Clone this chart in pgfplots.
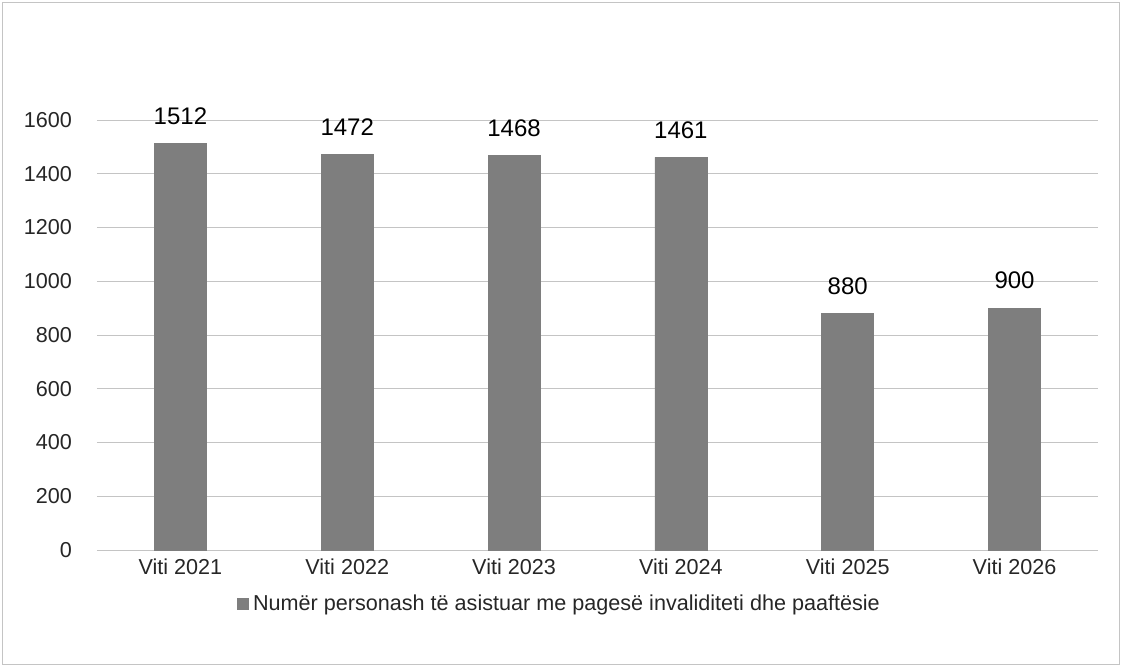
\documentclass[border=0pt]{standalone}
\usepackage{fontspec}
\setmainfont{Liberation Sans}
\usepackage{pgfplots}
\pgfplotsset{compat=1.18}
\definecolor{bargray}{HTML}{7E7E7E}
\definecolor{gridgray}{HTML}{C4C4C4}
\begin{document}
\begin{tikzpicture}[x=1pt,y=1pt]
\draw[gridgray, line width=0.4pt] (1,1) rectangle (559.5,332);
\path[use as bounding box] (0,0) rectangle (560.5,333);
\begin{axis}[
  at={(48.5pt,58pt)}, anchor=south west,
  scale only axis, width=500.5pt, height=215pt,
  xmin=-0.5, xmax=5.5, ymin=0, ymax=1600,
  ybar, bar width=26pt,
  xtick={0,...,5},
  xticklabels={Viti 2021,Viti 2022,Viti 2023,Viti 2024,Viti 2025,Viti 2026},
  ytick={0,200,...,1600},
  axis line style={draw=none},
  major tick length=0pt,
  ymajorgrids, grid style={gridgray, line width=0.5pt},
  tick label style={font=\fontsize{10.8}{12}\selectfont, text=black!85},
  xticklabel style={yshift=-1pt},
  yticklabel style={xshift=-9pt, /pgf/number format/1000 sep={}},
  /pgf/number format/assume math mode=true,
  nodes near coords,
  nodes near coords style={font=\fontsize{12}{14}\selectfont, text=black, anchor=south, yshift=6pt,
    /pgf/number format/1000 sep={}},
  legend style={at={(0.463,-0.1256)}, anchor=center, draw=none, fill=none,
    font=\fontsize{10.8}{12}\selectfont, text=black!85},
  legend image code/.code={\fill[#1] (0pt,-2.8pt) rectangle (5.6pt,2.8pt);},
]
\addplot[fill=bargray, draw=bargray] coordinates {
 (0,1512) (1,1472) (2,1468) (3,1461) (4,880) (5,900)};
\addlegendentry{Numër personash të asistuar me pagesë invaliditeti dhe paaftësie}
\end{axis}
\end{tikzpicture}
\end{document}
